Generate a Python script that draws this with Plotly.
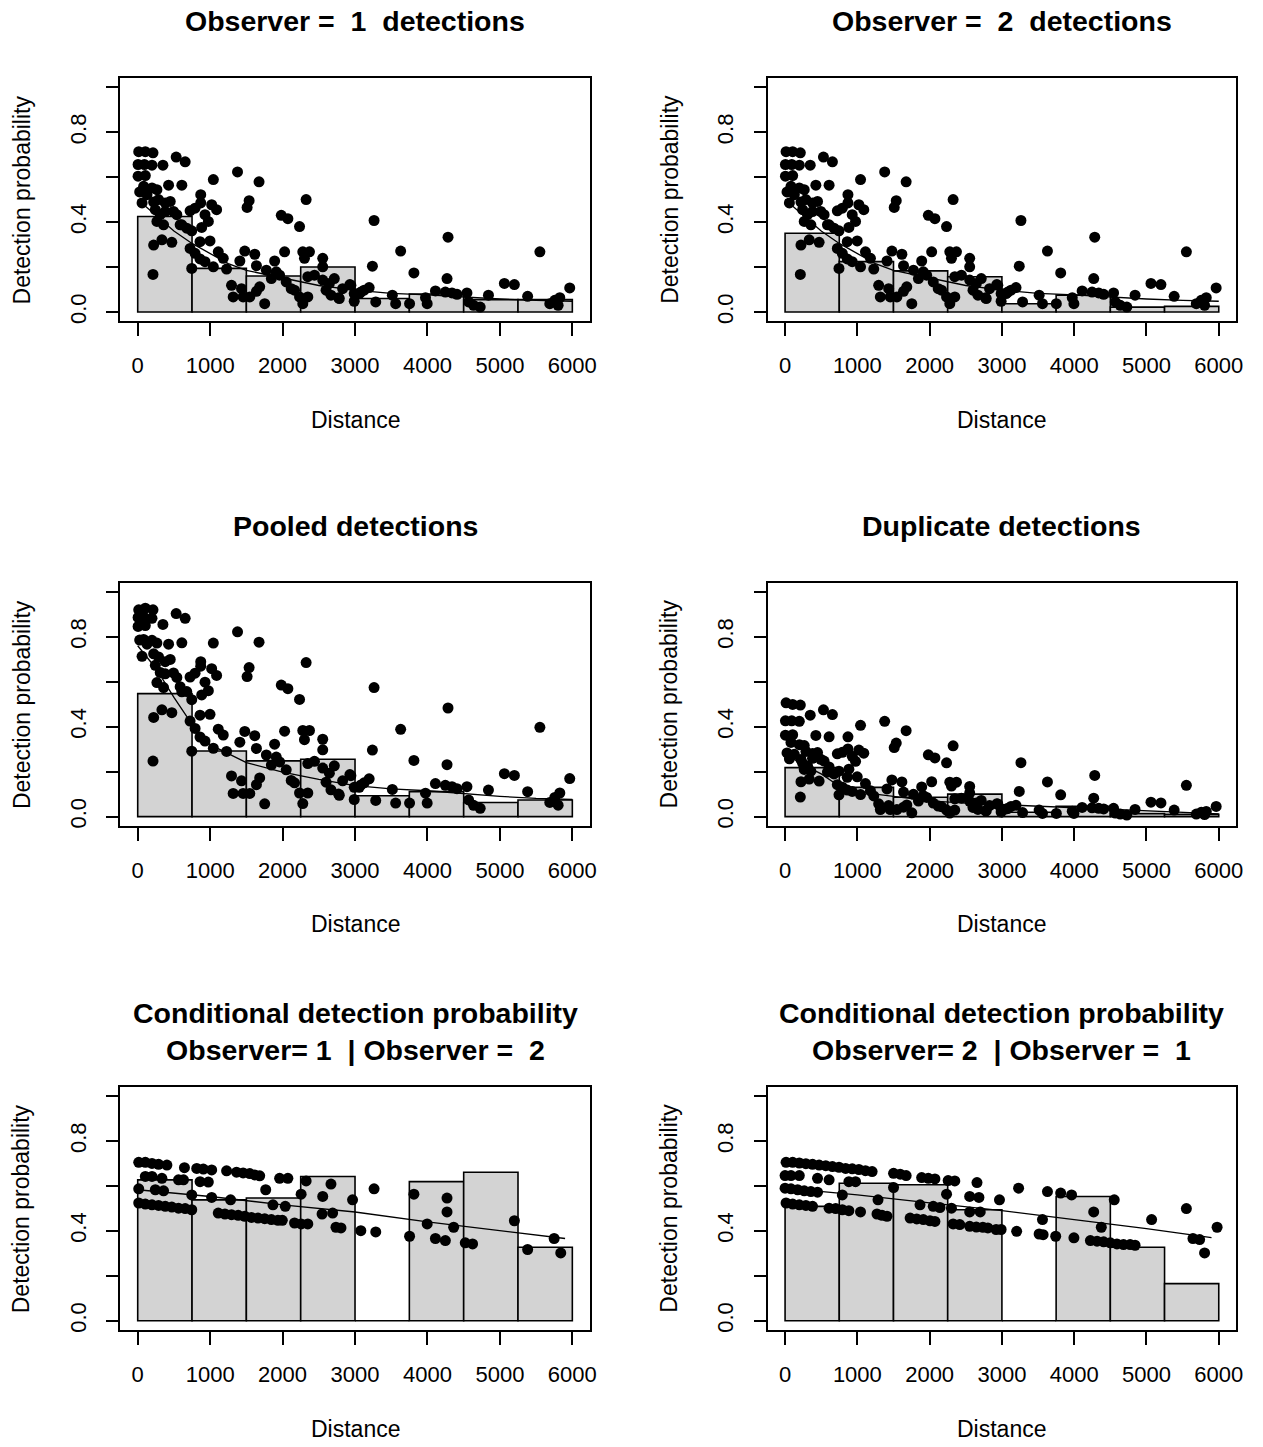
import plotly.graph_objects as go

# ---------------- data ----------------
bin_left = [0, 750, 1500, 2250, 3000, 3750, 4500, 5250]
bin_width = 750
x_ticks = [0, 1000, 2000, 3000, 4000, 5000, 6000]
y_ticks = [0.0, 0.2, 0.4, 0.6, 0.8, 1.0]
y_ticktext = ["0.0", "", "0.4", "", "0.8", ""]

# histogram heights
bars_obs1 = [0.425, 0.194, 0.160, 0.200, 0.060, 0.080, 0.055, 0.055]
bars_obs2 = [0.350, 0.224, 0.183, 0.157, 0.037, 0.075, 0.022, 0.025]
bars_pooled = [0.547, 0.292, 0.248, 0.255, 0.093, 0.111, 0.063, 0.074]
bars_dup = [0.218, 0.130, 0.086, 0.100, 0.019, 0.046, 0.013, 0.010]
bars_cond12 = [0.627, 0.538, 0.546, 0.642, 0.0, 0.619, 0.661, 0.327]
bars_cond21 = [0.509, 0.612, 0.605, 0.494, 0.0, 0.553, 0.327, 0.165]

# distances of detections (panels 1-4)
dist = [5, 5, 14, 27, 60, 82, 92, 105, 105, 128,
        197, 197, 211, 211, 220, 220, 243, 265, 265, 288,
        311, 334, 348, 357, 380, 380, 426, 449, 471, 494,
        531, 540, 586, 609, 609, 655, 677, 723, 723, 746,
        746, 792, 792, 860, 860, 870, 870, 883, 929, 929,
        975, 998, 1021, 1044, 1044, 1089, 1112, 1181, 1227, 1295,
        1318, 1378, 1410, 1433, 1455, 1478, 1510, 1538, 1547, 1616,
        1639, 1639, 1675, 1684, 1753, 1776, 1845, 1890, 1913, 1959,
        1982, 2028, 2050, 2073, 2119, 2165, 2234, 2234, 2279, 2279,
        2302, 2325, 2348, 2348, 2371, 2440, 2554, 2554, 2554, 2600,
        2646, 2668, 2714, 2774, 2783, 2829, 2929, 2943, 2989, 2989,
        3058, 3081, 3126, 3195, 3240, 3263, 3286, 3515, 3561, 3630,
        3753, 3813, 3973, 3996, 4110, 4247, 4270, 4284, 4339, 4408,
        4545, 4568, 4637, 4728, 4842, 5062, 5200, 5383, 5552, 5689,
        5758, 5804, 5827, 5964]

# fitted detection probability, single observer (same for observer 1 and 2)
p_single = [.656, .604, .713, .534, .485, .559, .656, .713, .607, .522,
            .653, .552, .708, .167, .489, .298, .455, .403, .544, .500,
            .433, .321, .653, .388, .485, .447, .564, .492, .310, .447,
            .689, .433, .388, .564, .388, .668, .373, .450, .283, .361,
            .194, .462, .261, .236, .313, .522, .485, .376, .433, .224,
            .403, .316, .477, .589, .201, .455, .268, .239, .191, .119,
            .067, .623, .227, .104, .067, .271, .465, .495, .067, .257,
            .206, .092, .579, .112, .037, .186, .149, .227, .179, .164,
            .430, .268, .134, .415, .104, .097, .380, .067, .268, .037,
            .239, .500, .067, .157, .268, .164, .239, .201, .142, .097,
            .127, .075, .149, .063, .060, .104, .122, .119, .048, .082,
            .082, .089, .097, .109, .204, .407, .045, .075, .037, .271,
            .037, .174, .064, .037, .094, .089, .149, .333, .085, .079,
            .085, .045, .030, .022, .075, .127, .122, .070, .268, .037,
            .052, .030, .064, .107]

p_pooled = [.886, .846, .920, .785, .713, .788, .886, .927, .850, .767,
            .882, .784, .920, .247, .724, .441, .673, .596, .772, .710,
            .641, .475, .855, .574, .689, .635, .767, .699, .462, .639,
            .903, .619, .578, .773, .555, .882, .556, .621, .425, .520,
            .291, .638, .392, .354, .451, .689, .669, .541, .598, .336,
            .560, .455, .658, .772, .304, .628, .389, .363, .290, .181,
            .103, .822, .331, .159, .103, .379, .623, .663, .103, .360,
            .303, .142, .776, .172, .057, .274, .229, .322, .265, .243,
            .585, .380, .208, .569, .161, .150, .521, .105, .383, .058,
            .342, .685, .105, .236, .383, .246, .344, .297, .216, .153,
            .193, .119, .226, .100, .095, .159, .187, .182, .076, .130,
            .130, .141, .150, .168, .296, .574, .072, .121, .060, .388,
            .060, .250, .104, .060, .147, .139, .231, .483, .133, .124,
            .133, .074, .050, .037, .118, .191, .183, .111, .397, .063,
            .085, .051, .105, .169]

p_dup = [.426, .362, .506, .283, .257, .330, .426, .499, .364, .277,
         .424, .320, .496, .087, .254, .155, .237, .210, .316, .290,
         .225, .167, .451, .202, .281, .259, .361, .285, .158, .255,
         .475, .247, .198, .355, .221, .454, .190, .279, .142, .202,
         .097, .286, .131, .118, .175, .355, .301, .211, .268, .112,
         .246, .177, .296, .406, .098, .282, .147, .115, .092, .057,
         .031, .424, .123, .049, .031, .163, .307, .327, .031, .154,
         .109, .042, .382, .052, .017, .099, .069, .132, .093, .085,
         .275, .155, .060, .261, .047, .044, .239, .029, .153, .016,
         .136, .315, .029, .079, .153, .082, .134, .105, .068, .041,
         .061, .032, .072, .026, .025, .049, .057, .056, .020, .034,
         .034, .036, .045, .050, .112, .240, .018, .029, .014, .154,
         .014, .097, .024, .014, .041, .039, .082, .183, .037, .034,
         .037, .016, .011, .007, .032, .064, .061, .029, .139, .011,
         .019, .009, .023, .045]

# average fitted curves (panels 1-4)
line_d = [0, 250, 500, 750, 1000, 1250, 1500, 2000, 2500, 3000, 3500, 4000, 4500, 5000, 5500, 6000]
line_single = [0.50, 0.43, 0.36, 0.305, 0.26, 0.215, 0.185, 0.15, 0.118, 0.097, 0.083, 0.076, 0.066, 0.058, 0.052, 0.048]
line_pooled = [0.76, 0.66, 0.53, 0.41, 0.32, 0.28, 0.24, 0.198, 0.166, 0.138, 0.123, 0.115, 0.102, 0.090, 0.081, 0.076]
line_dup = [0.28, 0.23, 0.19, 0.135, 0.115, 0.10, 0.09, 0.07, 0.06, 0.053, 0.045, 0.04, 0.032, 0.024, 0.016, 0.012]

# conditional detection: observer 1 | observer 2
d_cond12 = [14, 105, 197, 288, 403, 645, 815, 906, 1021, 1227, 1364, 1455, 1547, 1616, 1684, 1959, 2073, 2325, 2668,
            105, 197, 334, 563, 632, 861, 975, 1767, 2554, 3263, 3813, 4270,
            14, 243, 357, 746, 1021, 1282, 1867, 2037, 2256, 2966, 3996, 4270, 4362, 5200, 5749,
            14, 105, 197, 288, 380, 471, 563, 655, 746,
            1112, 1204, 1295, 1387, 1478, 1570, 1661, 1753, 1845, 1936, 1996,
            2165, 2256, 2348, 2545, 2691, 2737, 2806, 3080, 3286, 3753, 4110, 4247, 4522, 4623, 5383, 5840]
p_cond12 = [.705, .705, .700, .696, .693, .681, .678, .675, .671, .667, .661, .658, .655, .649, .645, .634, .634, .622, .608,
            .642, .642, .634, .627, .627, .619, .617, .583, .553, .587, .563, .546,
            .587, .583, .578, .560, .549, .538, .516, .509, .563, .538, .431, .484, .416, .445, .366,
            .524, .519, .516, .513, .509, .506, .501, .499, .494,
            .479, .475, .472, .469, .465, .460, .457, .454, .450, .447, .447,
            .435, .431, .431, .475, .479, .416, .413, .401, .395, .376, .366, .357, .347, .342, .317, .302]
line_cond_d = [0, 1000, 2000, 3000, 4000, 5000, 5900]
line_cond12 = [0.583, 0.553, 0.516, 0.484, 0.440, 0.400, 0.366]

# conditional detection: observer 2 | observer 1
d_cond21 = [14, 105, 197, 288, 380, 471, 563, 655, 746, 838, 929, 1021, 1112, 1204,
            1501, 1593, 1675, 1890, 1982, 2073, 2256, 2348, 2655,
            0, 82, 197, 449, 609, 883, 975, 2554, 2682, 3231, 3630, 3813, 3964, 4554, 1501,
            0, 82, 174, 265, 357, 449, 792, 1286, 1867, 2050, 2142, 2234, 2302, 2554, 2700, 2966,
            3561, 4270, 4375, 5071, 5552, 5977,
            14, 105, 197, 288, 380, 609, 700, 792, 883, 1044, 1272, 1341, 1410,
            1730, 1822, 1913, 2005, 2073, 2325, 2417, 2554, 2646, 2737, 2806, 2920, 2989, 3204,
            3515, 3570, 3744, 3996, 4224, 4316, 4408, 4499, 4591, 4682, 4774, 4842, 5643, 5735, 5804]
p_cond21 = [.705, .705, .702, .699, .696, .693, .690, .686, .683, .678, .676, .673, .668, .664,
            .656, .652, .646, .637, .634, .631, .624, .622, .615,
            .646, .646, .646, .634, .627, .619, .619, .553, .549, .590, .575, .568, .560, .538, .593,
            .590, .587, .583, .578, .575, .572, .560, .538, .516, .509, .504, .563, .501, .484, .484, .538,
            .450, .484, .416, .450, .499, .416,
            .524, .519, .516, .513, .509, .501, .499, .494, .490, .484, .475, .469, .465,
            .457, .453, .450, .445, .442, .431, .428, .420, .417, .416, .413, .406, .406, .398,
            .386, .383, .376, .369, .357, .354, .351, .347, .342, .339, .339, .336, .366, .361, .302]
line_cond21 = [0.590, 0.560, 0.525, 0.490, 0.450, 0.410, 0.370]

titles = [
    "Observer = \u00a01 \u00a0detections",
    "Observer = \u00a02 \u00a0detections",
    "Pooled detections",
    "Duplicate detections",
    "Conditional detection probability<br>Observer= 1 \u00a0| Observer = \u00a02",
    "Conditional detection probability<br>Observer= 2 \u00a0| Observer = \u00a01",
]
x_title = "Distance"
y_title = "Detection probability"

# ---------------- layout geometry (pixels) ----------------
W, H = 1263, 1447
col_px = [(121, 593), (772, 1243)]
row_px = [(78.3, 321.7), (584.0, 827.3), (1089.3, 1332.5)]
FONT = "Liberation Sans, Arial, sans-serif"


def px_x(x):
    return x / W


def px_y(y):
    return 1 - y / H


panels = [
    (bars_obs1, dist, p_single, line_d, line_single),
    (bars_obs2, dist, p_single, line_d, line_single),
    (bars_pooled, dist, p_pooled, line_d, line_pooled),
    (bars_dup, dist, p_dup, line_d, line_dup),
    (bars_cond12, d_cond12, p_cond12, line_cond_d, line_cond12),
    (bars_cond21, d_cond21, p_cond21, line_cond_d, line_cond21),
]

fig = go.Figure()
annotations = []
layout_axes = {}

for i, (bars, px, py, lx, ly) in enumerate(panels):
    r, c = divmod(i, 2)
    n = "" if i == 0 else str(i + 1)
    xa, ya = "x" + n, "y" + n
    x0, x1 = col_px[c]
    y0, y1 = row_px[r]

    fig.add_trace(go.Bar(x=bin_left, y=bars, width=[bin_width] * len(bin_left), offset=0,
                         marker=dict(color="#d3d3d3", line=dict(color="black", width=1.6)),
                         xaxis=xa, yaxis=ya, showlegend=False, hoverinfo="skip"))
    fig.add_trace(go.Scatter(x=px, y=py, mode="markers",
                             marker=dict(color="black", size=11, line=dict(width=0)),
                             xaxis=xa, yaxis=ya, showlegend=False))
    fig.add_trace(go.Scatter(x=lx, y=ly, mode="lines", line=dict(color="black", width=1.3),
                             xaxis=xa, yaxis=ya, showlegend=False))

    common = dict(showline=True, linecolor="black", linewidth=2, mirror=True,
                  ticks="outside", tickcolor="black", tickwidth=2,
                  showgrid=False, zeroline=False,
                  tickfont=dict(family=FONT, size=22, color="black"))
    layout_axes["xaxis" + n] = dict(domain=[px_x(x0), px_x(x1)], range=[-240, 6240], anchor=ya,
                                    tickvals=x_ticks, ticklen=13, ticklabelstandoff=11, **common)
    layout_axes["yaxis" + n] = dict(domain=[px_y(y1), px_y(y0)], range=[-0.04, 1.04], anchor=xa,
                                    tickvals=y_ticks, ticktext=y_ticktext, tickangle=-90,
                                    ticklen=12, ticklabelstandoff=12, **common)

    cx = (x0 + x1) / 2
    cy = (y0 + y1) / 2
    # main title
    annotations.append(dict(text="<b>" + titles[i] + "</b>", x=px_x(cx), y=px_y(y0 - 57 if r < 2 else y0 - 56),
                            xref="paper", yref="paper", xanchor="center", yanchor="middle",
                            showarrow=False, font=dict(family=FONT, size=28.5, color="black")))
    # x axis title
    annotations.append(dict(text=x_title, x=px_x(cx), y=px_y(y1 + 99), xref="paper", yref="paper",
                            xanchor="center", yanchor="middle", showarrow=False,
                            font=dict(family=FONT, size=23, color="black")))
    # y axis title
    annotations.append(dict(text=y_title, x=px_x(x0 - 99), y=px_y(cy), xref="paper", yref="paper",
                            xanchor="center", yanchor="middle", textangle=-90, showarrow=False,
                            font=dict(family=FONT, size=23, color="black")))

fig.update_layout(width=W, height=H, autosize=False,
                  margin=dict(l=0, r=0, t=0, b=0),
                  paper_bgcolor="white", plot_bgcolor="white",
                  annotations=annotations, showlegend=False, **layout_axes)

# remove the default 8px page margin so the figure fills the window exactly
fig.write_html("out.html", config={"displayModeBar": False},
               post_script="document.body.style.margin='0px';document.body.style.overflow='hidden';")
